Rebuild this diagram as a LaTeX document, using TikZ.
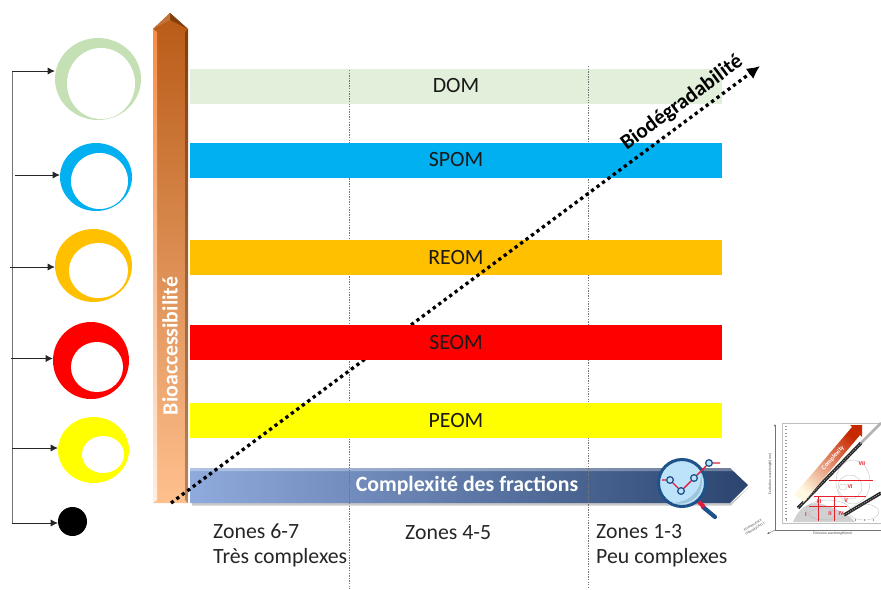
\documentclass[tikz,border=0pt]{standalone}
\usepackage{fontspec}
\setmainfont{Carlito}
\usetikzlibrary{shapes.geometric,arrows.meta}
\definecolor{domgreen}{HTML}{E2EFDA}
\definecolor{ringgreen}{HTML}{C5E0B4}
\definecolor{spomblue}{HTML}{00B0F0}
\definecolor{reomorange}{HTML}{FFC000}
\definecolor{seomred}{HTML}{FF0000}
\definecolor{peomyellow}{HTML}{FFFF00}
\definecolor{magblue}{HTML}{1F5288}
\definecolor{magred}{HTML}{E01B3C}
\definecolor{lensblue}{HTML}{BDE3FA}
\definecolor{lensdark}{HTML}{9CC5DC}
\definecolor{eemredc}{HTML}{E8202A}
\tikzset{
  bar/.style={rectangle, minimum width=15.96cm, minimum height=1.05cm, inner sep=0pt, font=\fontsize{18.6}{22}\selectfont, text=black!90},
  ring/.style={ellipse, inner sep=0pt},
  hole/.style={ellipse, inner sep=0pt, fill=white},
  branch/.style={-{Latex[length=6pt,width=6pt]}, line width=0.5pt, black!85},
  trunk/.style={line width=0.6pt, black!55},
  zone/.style={anchor=west, inner sep=0pt, font=\fontsize{18.6}{22}\selectfont, text=black!85},
  zoneline/.style={dash pattern=on 1.2pt off 1pt, line width=0.6pt, black!55},
  eemred/.style={eemredc, line width=0.7pt},
  eemtext/.style={inner sep=0pt, text=black!70, font=\fontsize{3.2}{3.6}\selectfont},
  eemzone/.style={inner sep=0pt, text=eemredc, font=\bfseries\fontsize{5}{6}\selectfont},
  point/.style={circle, minimum size=0.2cm, inner sep=0pt, draw=magblue, line width=1.1pt, fill=lensblue}
}
\begin{document}
\begin{tikzpicture}[x=0.03cm,y=-0.03cm]
\useasboundingbox (0,0) rectangle (881,589);

% rings
\node [ring, fill=ringgreen, minimum width=2.58cm, minimum height=2.46cm] (ring1) at (98,79) {};
\node [hole, minimum width=2.04cm, minimum height=2.13cm] (hole1) at (101,83.5) {};
\node [ring, fill=spomblue, minimum width=2.16cm, minimum height=2.04cm] (ring2) at (96,177) {};
\node [hole, minimum width=1.71cm, minimum height=1.68cm] (hole2) at (99.5,181) {};
\node [ring, fill=reomorange, minimum width=2.31cm, minimum height=2.19cm] (ring3) at (93.5,265.5) {};
\node [hole, minimum width=1.77cm, minimum height=1.65cm] (hole3) at (98.5,270.5) {};
\node [ring, fill=seomred, minimum width=2.28cm, minimum height=2.31cm] (ring4) at (91,360.5) {};
\node [hole, minimum width=1.56cm, minimum height=1.5cm] (hole4) at (97,367) {};
\node [ring, fill=peomyellow, minimum width=2.13cm, minimum height=1.98cm] (ring5) at (93.5,450) {};
\node [hole, minimum width=1.26cm, minimum height=1.11cm] (hole5) at (103,454.5) {};
\node [circle, fill=black, minimum size=0.87cm, inner sep=0pt] (ring6) at (72.5,521.5) {};

% tree on the left
\coordinate (t1) at (12,71);
\coordinate (t2) at (15,175);
\coordinate (t3) at (10,267);
\coordinate (t4) at (11,358.5);
\coordinate (t5) at (12,448);
\coordinate (t6) at (12,523);
\draw [trunk] (t1) -- (t6);
\draw [branch] (t1) -- (ring1.west |- t1);
\draw [branch] (t2) -- (ring2.west |- t2);
\draw [branch] (t3) -- (ring3.west |- t3);
\draw [branch] (t4) -- (ring4.west |- t4);
\draw [branch] (t5) -- (ring5.west |- t5);
\draw [branch] (t6) -- (ring6.west |- t6);

% bar under the dashed lines
\node [bar, fill=domgreen] (dom) at (456,86) {DOM};

% blue arrow
\fill [black!22] (192,503) -- (731,503) -- (749,487) -- (731,505.5) -- (192,505.5) -- cycle;
\definecolor{cplxleft}{HTML}{8FAADC}
\definecolor{cplxmid}{HTML}{4B72B0}
\definecolor{cplxright}{HTML}{2B4570}
\shade [left color=cplxleft, middle color=cplxmid, right color=cplxright]
  (190,468) -- (730,468) -- (748,485) -- (730,503) -- (190,503) -- cycle;
\fill [white, opacity=0.3] (190,468) -- (730,468) -- (733,471) -- (190,471) -- cycle;
\node [inner sep=0pt, text=white, font=\bfseries\fontsize{18.6}{22}\selectfont] (cplx) at (467,486) {Complexité des fractions};

% dashed lines
\coordinate (z1a) at (349,70);
\coordinate (z1b) at (349,589);
\coordinate (z2a) at (588,66);
\coordinate (z2b) at (588,589);
\draw [zoneline] (z1a) -- (z1b);
\draw [zoneline] (z2a) -- (z2b);

% bars
\node [bar, fill=spomblue] (spom) at (456,160) {SPOM};
\node [bar, fill=reomorange] (reom) at (456,257.5) {REOM};
\node [bar, fill=peomyellow] (peom) at (456,420.5) {PEOM};

% orange arrow
\definecolor{bioatop}{HTML}{B85A16}
\definecolor{bioamid}{HTML}{F88C42}
\definecolor{bioabot}{HTML}{FFC08E}
\shade [top color=bioatop, middle color=bioamid, bottom color=bioabot]
  (153,29) -- (170,13) -- (188,29) -- (188,503) -- (153,503) -- cycle;
\shade [top color=bioamid, bottom color=white!75!bioabot] (153,29) -- (157,32) -- (157,500) -- (153,503) -- cycle;
\shade [top color=bioatop!70!black, bottom color=bioabot!70!black] (188,29) -- (185,32) -- (185,500) -- (188,503) -- cycle;
\fill [bioatop!70!black] (170,13) -- (188,29) -- (170,20) -- cycle;
\fill [bioatop!85!white] (153,29) -- (170,13) -- (170,20) -- cycle;
\node [rotate=90, inner sep=0pt, text=white, font=\bfseries\fontsize{18.6}{22}\selectfont] (bioacc) at (170,346) {Bioaccessibilité};

% biodegradability
\coordinate (biostart) at (171,503);
\coordinate (bioend) at (760,66);
\draw [line width=2.8pt, dash pattern=on 2.8pt off 3pt, -{Latex[length=11pt,width=11pt]}] (biostart) -- (bioend);
\node [rotate=36.5, inner sep=0pt, font=\bfseries\fontsize{18.2}{22}\selectfont] (biodeg) at (682,103) {Biodégradabilité};

% this bar hides the dots
\node [bar, fill=seomred] (seom) at (456,342) {SEOM};

% zones
\node [zone] (zone1) at (213,531) {Zones 6-7};
\node [zone] (zone1b) at (213,558) {Très complexes};
\node [zone] (zone2) at (405,533) {Zones 4-5};
\node [zone] (zone3) at (596,531) {Zones 1-3};
\node [zone] (zone3b) at (596,558) {Peu complexes};

% magnifier
\draw [magblue, line width=3.6pt, line cap=round] (703,507) -- (715,517);
\draw [magred, line width=3.6pt] (698,501) -- (704,507);
\node [circle, minimum size=1.41cm, inner sep=0pt, fill=lensblue, draw=magblue, line width=2.6pt] (lens) at (682,483) {};
\fill [lensdark] (700,470) .. controls (704,488) and (692,502) .. (672,503) .. controls (690,507) and (708,495) .. cycle;
\node [point] (p1) at (670,480) {};
\node [point] (p2) at (681,491) {};
\node [point] (p3) at (694,478) {};
\node [point] (p4) at (709,463) {};
\coordinate (p0) at (662,480);
\coordinate (p5) at (720,463);
\draw [magred, line width=1.2pt] (p0) -- (p1) (p1) -- (p2) (p2) -- (p3) (p3) -- (p4) (p4) -- (p5);

% small EEM plot
\draw [black!25, line width=0.8pt] (782,423) rectangle (881,523);
\draw [black!40, line width=1.2pt, dash pattern=on 0.4pt off 2.5pt] (786,426) -- (786,520);
\draw [black!40, line width=1.2pt, dash pattern=on 0.4pt off 7pt] (786,520) -- (881,520);
\fill [black!18] (793,522) .. controls (800,505) and (812,500) .. (825,505) .. controls (840,510) and (850,515) .. (855,522) -- cycle;
\draw [black!25, line width=0.3pt] (853,482) ellipse (17 and 22);
\draw [black!25, line width=0.3pt] (850,487) ellipse (12 and 12);
\draw [black!25, line width=0.3pt] (843,487) ellipse (4 and 3);
\draw [black!25, line width=0.3pt] (828,510) ellipse (22 and 10);
\draw [black!25, line width=0.3pt] (822,514) ellipse (13 and 6);
\draw [black!25, line width=0.3pt] (864,512) ellipse (15 and 8);
\draw [black!30, line width=2.2pt] (861,443) -- (881,423);
\draw [black!85, line width=2.8pt] (798,508) -- (861,443);
\draw [black!35, line width=0.6pt, dash pattern=on 1pt off 1pt] (798,508) -- (861,443);
\draw [black!85, line width=2.8pt] (844,515) -- (881,493);
\draw [black!35, line width=0.6pt, dash pattern=on 1pt off 1pt] (844,515) -- (881,493);
\draw [eemred] (829,480) -- (873,480);
\draw [eemred] (814,496) -- (866,496);
\draw [eemred] (809,506) -- (847,506);
\draw [eemred] (818,496) -- (818,521);
\draw [eemred] (834,496) -- (834,521);
\definecolor{ctop}{HTML}{C62800}
\definecolor{cmid}{HTML}{F2A60C}
\definecolor{cbot}{HTML}{FFF8E0}
\shade [top color=ctop, middle color=cmid, bottom color=cbot, shading angle=-42]
  (794,495) -- (852,427) -- (850,425) -- (862,425) -- (862,437) -- (860,435) -- (804,502) -- cycle;
\node [rotate=48, inner sep=0pt, text=white, font=\bfseries\fontsize{5.5}{6}\selectfont] (eemcplx) at (833,458) {Complexity};
\node [eemzone] (z7) at (862,464) {VII};
\node [eemzone] (z6) at (850,487) {VI};
\node [eemzone] (z5) at (846,501) {V};
\node [eemzone] (z3) at (819,502) {III};
\node [eemzone] (z2) at (830,514) {II};
\node [eemzone] (z4) at (841,514) {IV};
\node [eemzone] (z0) at (806,515) {I};
\coordinate (eemo) at (775,530);
\coordinate (eemy) at (775,424);
\coordinate (eemx) at (881,530);
\coordinate (eemz) at (767,534);
\draw [black!55, line width=0.4pt, -{Latex[length=2pt,width=2pt]}] (eemo) -- (eemy);
\draw [black!55, line width=0.4pt] (eemo) -- (eemx);
\draw [black!55, line width=0.4pt, -{Latex[length=2pt,width=2pt]}] (eemo) -- (eemz);
\node [eemtext, rotate=90] (eemex) at (770,474) {Excitation wavelength(nm)};
\node [eemtext] (eemem) at (833,533.5) {Emission wavelength(nm)};
\node [eemtext, rotate=32, align=center] (eemfl) at (754,527) {Fluorescence\\intensity(A.U.)};

\end{tikzpicture}
\end{document}
